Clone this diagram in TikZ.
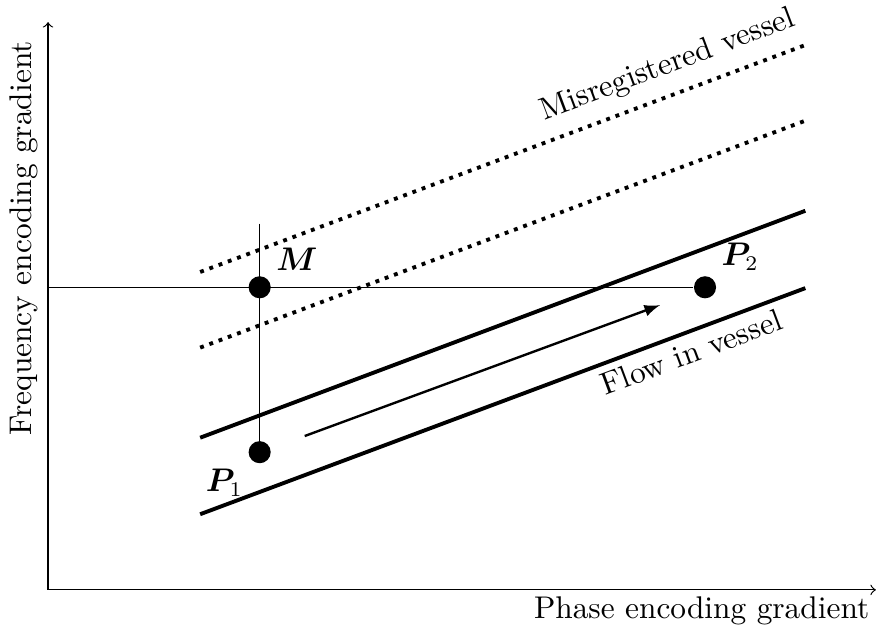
\documentclass[tikz,border=0pt]{standalone}
\usepackage{amsmath}
\usepackage{amssymb}
\usepackage{bm}
\usetikzlibrary{arrows,positioning,calc}

\begin{document}
\begin{tikzpicture}[>=to, font=\fontsize{10.5pt}{12.6pt}\selectfont]
        \tikzset{
            vessel/.style={line width=1.3pt},
            misreg/.style={line width=1.3pt, dotted},
            spin/.style={circle, fill=black, inner sep=0pt, minimum size=0.26cm},
            guide/.style={line width=0.4pt},
        }
        \useasboundingbox (-0.565,-0.47) rectangle (9.765,6.94);

        % Axes
        \coordinate (O) at (0,0);
        \coordinate (xend) at (9.74,0);
        \coordinate (yend) at (0,6.68);
        \draw [->] (O) -- (xend);
        \draw [->] (O) -- (yend);
        \node [anchor=north east, inner sep=2pt] (xlabel) at (xend) {Phase encoding gradient};
        \node [rotate=90, anchor=south east] (ylabel) at ($(yend)+(0,-0.1)$) {Frequency encoding gradient};

        % Flowing vessel
        \coordinate (vl1) at (1.79,0.89);
        \coordinate (vl2) at (8.91,3.55);
        \coordinate (vu1) at (1.79,1.79);
        \coordinate (vu2) at (8.91,4.46);
        \draw [vessel] (vu1) -- (vu2);
        \draw [vessel] (vl1) -- (vl2)
            node [pos=0.80, sloped, below=-1pt] (flowlabel) {Flow in vessel};

        % Flow direction
        \coordinate (f1) at (3.02,1.81);
        \coordinate (f2) at (7.2,3.35);
        \draw [-latex, thick] (f1) -- (f2);

        % Misregistered vessel
        \coordinate (ml1) at (1.79,2.85);
        \coordinate (ml2) at (8.91,5.52);
        \coordinate (mu1) at (1.79,3.74);
        \coordinate (mu2) at (8.91,6.41);
        \draw [misreg] (ml1) -- (ml2);
        \draw [misreg] (mu1) -- (mu2)
            node [pos=0.79, sloped, above=1pt] (misreglabel) {Misregistered vessel};

        % Spins
        \node [spin] (M) at (2.49,3.56) {};
        \node [spin] (P1) at (2.49,1.62) {};
        \node [spin] (P2) at (7.73,3.56) {};
        \coordinate (mtop) at (2.49,4.31);

        % Encoding lines
        \draw [guide] (O |- M) -- (P2);
        \draw [guide] (mtop) -- (P1);

        % Labels
        \node [above right=-1pt of M] (Mlabel) {$\boldsymbol{M}$};
        \node [below left=-1pt of P1] (P1label) {$\boldsymbol{P}_1$};
        \node [above right=-1pt of P2] (P2label) {$\boldsymbol{P}_2$};
    \end{tikzpicture}
\end{document}
